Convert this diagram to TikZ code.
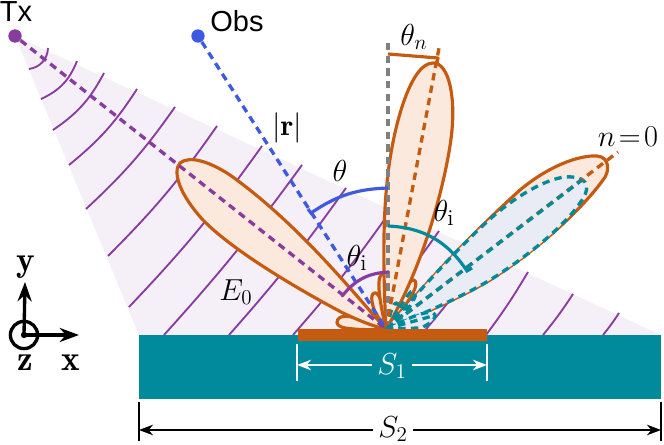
\documentclass[tikz,border=0pt]{standalone}
\usepackage{amsmath,amssymb}
\usepackage{fontspec}
\setsansfont{Liberation Sans}
\usetikzlibrary{arrows.meta}
\definecolor{txpurple}{RGB}{136,60,160}
\definecolor{obsblue}{RGB}{61,90,225}
\definecolor{subteal}{RGB}{0,138,155}
\definecolor{metal}{RGB}{197,90,17}
\definecolor{lobefill}{RGB}{251,233,221}
\definecolor{bluefill}{RGB}{233,236,245}
\definecolor{beamfill}{RGB}{245,239,248}
\definecolor{axisgray}{RGB}{128,128,128}
\tikzset{
  dot/.style={circle,inner sep=0pt,minimum size=7.6pt},
  wave/.style={color=txpurple,line width=1.05pt},
  lobe/.style={draw=metal,fill=lobefill,line width=1.8pt,line join=round},
  dashline/.style={line width=1.9pt,dash pattern=on 4.2pt off 3pt},
  teallobe/.style={draw=subteal,fill=bluefill,dashline,line join=round},
  anglearc/.style={line width=1.8pt},
  mathlabel/.style={inner sep=0pt,font=\fontsize{17}{20}\selectfont},
  thetalabel/.style={inner sep=0pt,font=\fontsize{18.5}{22}\selectfont},
  boldlabel/.style={inner sep=0pt,font=\fontsize{20}{22}\selectfont},
  dimline/.style={line width=1pt,{Stealth[length=8pt,width=6pt,inset=2.5pt]}-{Stealth[length=8pt,width=6pt,inset=2.5pt]}},
  axisarrow/.style={line width=1.9pt,-{Stealth[length=11pt,width=8pt]}}
}
\begin{document}
\begin{tikzpicture}[x=0.02cm,y=-0.02cm]
   \useasboundingbox (0,0) rectangle (664,445);
   \coordinate (orig) at (386,329);
   \fill[beamfill] (15,36) -- (139,335) -- (661,335) -- cycle;
   % wave fronts
   \foreach \xa/\ya/\xb/\yb/\bnd in {29/69/48/48/40, 41/99/77/61/22, 53/130/104/73/14, 69/165/137/89/9,
      86/209/175/107/6, 108/256/217/126/5, 129/307/262/146/4, 164/335/302/165/3, 229/335/346/188/3,
      293/335/392/209/3, 357/335/439/231/3, 421/335/485/252/3, 486/335/528/272/3, 543/335/573/294/3, 603/335/619/313/3}
      \draw[wave] (\xa,\ya) to[bend right=\bnd] (\xb,\yb);
   \fill[subteal] (139,335) rectangle (661,399);
   % side lobes
   \draw[lobe] (orig) .. controls (370,322) and (350,314) .. (341,317) .. controls (335,320) and (335,326) .. (345,328) .. controls (358,330) and (375,330) .. (orig);
   \draw[lobe] (orig) .. controls (384,315) and (382,296) .. (376,293) .. controls (370,292) and (371,302) .. (375,312) -- (orig);
   \draw[lobe] (orig) .. controls (392,310) and (392,276) .. (384,274) .. controls (376,273) and (378,295) .. (orig);
   \draw[lobe] (orig) .. controls (395,310) and (408,278) .. (414,280) .. controls (420,283) and (412,300) .. (orig);
   % main lobes
   \draw[lobe] (orig) .. controls (355,295) and (300,225) .. (230,175) .. controls (210,162) and (190,155) .. (180,163) .. controls (172,172) and (180,195) .. (203,220) .. controls (230,248) and (290,285) .. (343,313) .. controls (360,321) and (375,327) .. (orig);
   \draw[lobe] (orig) .. controls (384,290) and (382,230) .. (387,183) .. controls (392,130) and (410,63) .. (433,63) .. controls (450,63) and (455,100) .. (452,130) .. controls (449,165) and (428,260) .. (orig);
   \draw[lobe] (orig) .. controls (420,290) and (470,235) .. (520,190) .. controls (550,165) and (580,155) .. (597,156) .. controls (610,157) and (610,172) .. (603,180) .. controls (585,205) and (545,245) .. (490,280) .. controls (460,298) and (420,315) .. (orig);
   % teal dashed lobes
   \draw[teallobe] (orig) .. controls (420,290) and (465,240) .. (497,213) .. controls (525,190) and (555,175) .. (572,177) .. controls (590,178) and (590,190) .. (580,203) .. controls (565,225) and (530,255) .. (490,280) .. controls (460,298) and (420,315) .. (orig);
   \draw[teallobe,fill=none] (orig) .. controls (390,315) and (393,302) .. (397,303) .. controls (401,305) and (394,320) .. (orig);
   \draw[teallobe,fill=none] (orig) .. controls (398,315) and (408,290) .. (413,291) .. controls (420,293) and (410,312) .. (orig);
   \draw[teallobe] (orig) .. controls (405,320) and (425,310) .. (433,313) .. controls (440,316) and (428,326) .. (420,328) -- (orig);
   % axes of the lobes
   \coordinate (obstail) at (198,36);
   \coordinate (grtop) at (388,43);
   \coordinate (grbot) at (388,329);
   \coordinate (ntip) at (439,48);
   \coordinate (zerotip) at (618,152);
   \coordinate (zeroin) at (582,180);
   \draw[color=axisgray,dashline] (grtop) -- (grbot);
   \draw[color=metal,dashline] (orig) -- (ntip);
   \draw[color=metal,dashline] (orig) -- (zerotip);
   \draw[color=subteal,dashline] (orig) -- (zeroin);
   \draw[color=subteal,dashline] (orig) -- (436,315);
   \node[dot,fill=txpurple] (tx) at (15,36) {};
   \node[dot,fill=obsblue] (obs) at (obstail) {};
   \draw[color=txpurple,dashline] (tx) -- (orig);
   \draw[color=obsblue,dashline] (obs) -- (orig);
   \fill[metal] (298,329) rectangle (487,341);
   % angles
   \draw[color=metal,anglearc,line join=round] (388,54) -- (438,58) -- (437,63);
   \draw[color=obsblue,anglearc] (308,209) -- (311,213) to[bend left=16] (388,188);
   \draw[color=subteal,anglearc] (388,226) to[bend left=27] (467,271) -- (472,268);
   \draw[color=txpurple,anglearc] (341,296) -- (343,295) to[bend left=24] (389,272);
   % dimensions
   \coordinate (sal) at (297,365);
   \coordinate (sar) at (487,365);
   \coordinate (sbl) at (139,430);
   \coordinate (sbr) at (661,430);
   \draw[white,line width=1pt] (297,344) -- (297,381);
   \draw[white,line width=1pt] (487,344) -- (487,381);
   \draw[black,line width=1pt] (139,402) -- (139,441);
   \draw[black,line width=1pt] (661,402) -- (661,441);
   \draw[white,dimline] (sal) -- (sar);
   \draw[black,dimline] (sbl) -- (sbr);
   \node[mathlabel,fill=subteal,text=white,inner xsep=3pt] (salabel) at (392,366) {$S_1$};
   \node[mathlabel,fill=white,inner xsep=3pt] (sblabel) at (393,429) {$S_2$};
   % labels
   \node[inner sep=0pt,font=\sffamily\fontsize{16.5}{18}\selectfont] (txlabel) at (16,12) {Tx};
   \node[inner sep=0pt,font=\sffamily\fontsize{16.5}{18}\selectfont] (obslabel) at (237,21) {Obs};
   \node[mathlabel] (rlabel) at (287,128) {$|\mathbf{r}|$};
   \node[thetalabel] (thlabel) at (340,171) {$\theta$};
   \node[thetalabel] (thnlabel) at (414,37) {$\theta_n$};
   \node[thetalabel] (thilabel) at (357,258) {$\theta_{\mathrm{i}}$};
   \node[thetalabel] (thiblabel) at (444,213) {$\theta_{\mathrm{i}}$};
   \node[mathlabel] (elabel) at (236,292) {$E_0$};
   \node[inner sep=0pt,font=\fontsize{16}{18}\selectfont] (nlabel) at (628,137) {$\thickmuskip=2mu n=0$};
   % coordinate frame
   \node[circle,draw=black,line width=1.9pt,inner sep=0pt,minimum size=15.5pt] (zcirc) at (24,335) {};
   \node[circle,fill=black,inner sep=0pt,minimum size=3.6pt] (zdot) at (24,335) {};
   \coordinate (ytip) at (25,282);
   \coordinate (xtip) at (79,335);
   \draw[axisarrow] (zdot.center) -- (ytip);
   \draw[axisarrow] (zdot.center) -- (xtip);
   \node[boldlabel] (ylabel) at (26,267) {$\mathbf{y}$};
   \node[boldlabel] (zlabel) at (25,363) {$\mathbf{z}$};
   \node[boldlabel] (xlabel) at (71,363) {$\mathbf{x}$};
\end{tikzpicture}
\end{document}
